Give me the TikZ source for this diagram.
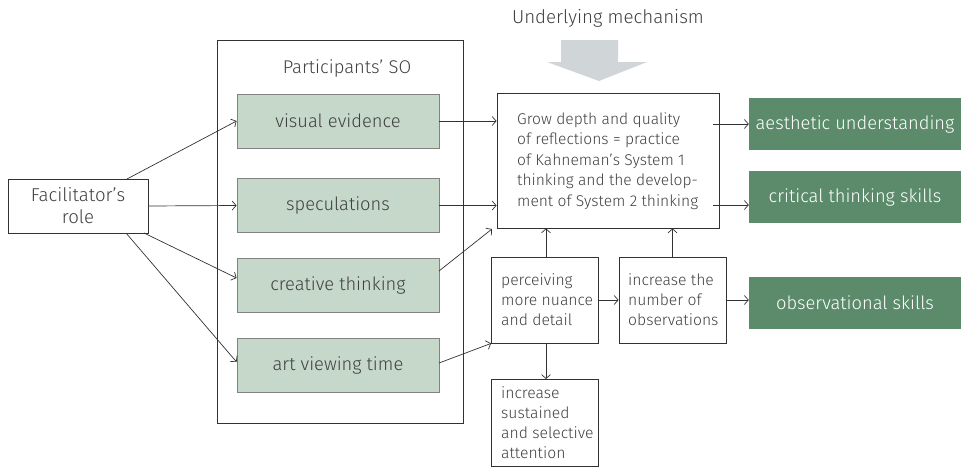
\documentclass[tikz,border=0pt]{standalone}
\usepackage{fontspec}
\IfFontExistsTF{Fira Sans Light}{\setmainfont{Fira Sans Light}}{\setmainfont{Lato}}
\usetikzlibrary{arrows.meta}
\definecolor{txt}{RGB}{64,64,64}
\definecolor{lnc}{RGB}{50,50,50}
\definecolor{dgreen}{RGB}{91,139,107}
\definecolor{lgreen}{RGB}{197,216,201}
\definecolor{lgborder}{RGB}{130,130,130}
\definecolor{garrow}{RGB}{208,213,216}
\begin{document}
\begin{tikzpicture}[x=1pt,y=-1pt,
  every node/.style={text=txt, font=\fontsize{18}{20}\selectfont},
  plainbox/.style={draw=lnc, line width=0.8pt, inner sep=0pt},
  sobox/.style={draw=lgborder, fill=lgreen, line width=0.8pt, minimum width=202pt, minimum height=54pt, inner sep=0pt, font=\fontsize{18.3}{20}\selectfont},
  outbox/.style={fill=dgreen, text=white, minimum width=212pt, minimum height=52pt, inner sep=0pt, font=\fontsize{18.3}{20}\selectfont},
  smallbox/.style={draw=lnc, line width=0.8pt, minimum width=107pt, minimum height=86pt, inner sep=0pt},
  boxtext/.style={anchor=west, align=left, inner sep=0pt, font=\fontsize{15.7}{20}\selectfont},
  conn/.style={draw=lnc, line width=0.7pt, -{Straight Barb[length=4pt,width=9pt]}}
]
\useasboundingbox (0,0) rectangle (961,466);
% Underlying mechanism
\node[font=\fontsize{18.7}{20}\selectfont] (um) at (608,18) {Underlying mechanism};
\fill[garrow] (561,40) -- (618,40) -- (618,62) -- (647,62) -- (599,81) -- (547,62) -- (561,62) -- cycle;
% Participants' SO container
\draw[lnc, line width=0.8pt] (217,40) rectangle (463,423);
\node[font=\fontsize{18.4}{20}\selectfont] (so) at (347,68) {Participants’ SO};
% SO boxes
\node[sobox] (ve) at (338,121) {visual evidence};
\node[sobox] (sp) at (338,205.5) {speculations};
\node[sobox] (ct) at (338,285) {creative thinking};
\node[sobox] (av) at (338,365) {art viewing time};
% Facilitator
\node[plainbox, minimum width=140pt, minimum height=54pt, align=center, font=\fontsize{18.6}{22}\selectfont] (fr) at (78,206) {Facilitator’s\\role};
% main box
\node[plainbox, minimum width=222pt, minimum height=135pt] (mb) at (608,160.5) {};
\node[boxtext, font=\fontsize{15.6}{20.5}\selectfont] (mbt) at (517,161) {Grow depth and quality\\of reflections = practice\\of Kahneman’s System 1\\thinking and the develop-\\ment of System 2 thinking};
% outcome boxes
\node[outbox] (au) at (855,124) {aesthetic understanding};
\node[outbox] (cs) at (855,197) {critical thinking skills};
\node[outbox] (os) at (855,302.5) {observational skills};
% small boxes
\node[smallbox] (pm) at (545,300) {};
\node[boxtext] (pmt) at (501,300) {perceiving\\more nuance\\and detail};
\node[smallbox] (in) at (672.5,300) {};
\node[boxtext] (int) at (628,300) {increase the\\number of\\observations};
\node[smallbox, minimum height=87pt, anchor=north] (is) at (545,379) {};
\node[boxtext] (ist) at (501,422.5) {increase\\sustained\\and selective\\attention};
% connectors
\coordinate (f1) at (127,179);
\coordinate (f3) at (144,233);
\coordinate (f4) at (126,233);
\draw[conn] (f1) -- (ve.west);
\draw[conn] (fr.east) -- (sp.west);
\draw[conn] (f3) -- ([yshift=7pt]ct.west);
\draw[conn] (f4) -- ([yshift=3pt]av.west);
\draw[conn] (ve.east) -- (mb.west |- ve.east);
\draw[conn] (sp.east) -- (mb.west |- sp.east);
\coordinate (c1) at (439,271);
\coordinate (c2) at (492,229);
\draw[conn] (c1) -- (c2);
\coordinate (a1) at (439,363);
\draw[conn] (a1) -- (pm.south west);
\draw[conn] ([xshift=1pt]pm.north) -- ([xshift=1pt]pm.north |- mb.south);
\draw[conn] (in.north) -- (in.north |- mb.south);
\draw[conn] (pm.east) -- (in.west);
\draw[conn] (in.east) -- (os.west |- in.east);
\draw[conn] ([xshift=1pt]pm.south) -- ([xshift=1pt]is.north);
\coordinate (m1) at (713,124);
\coordinate (m2) at (713,205);
\draw[conn] (m1) -- (au.west |- m1);
\draw[conn] (m2) -- (cs.west |- m2);
\end{tikzpicture}
\end{document}
